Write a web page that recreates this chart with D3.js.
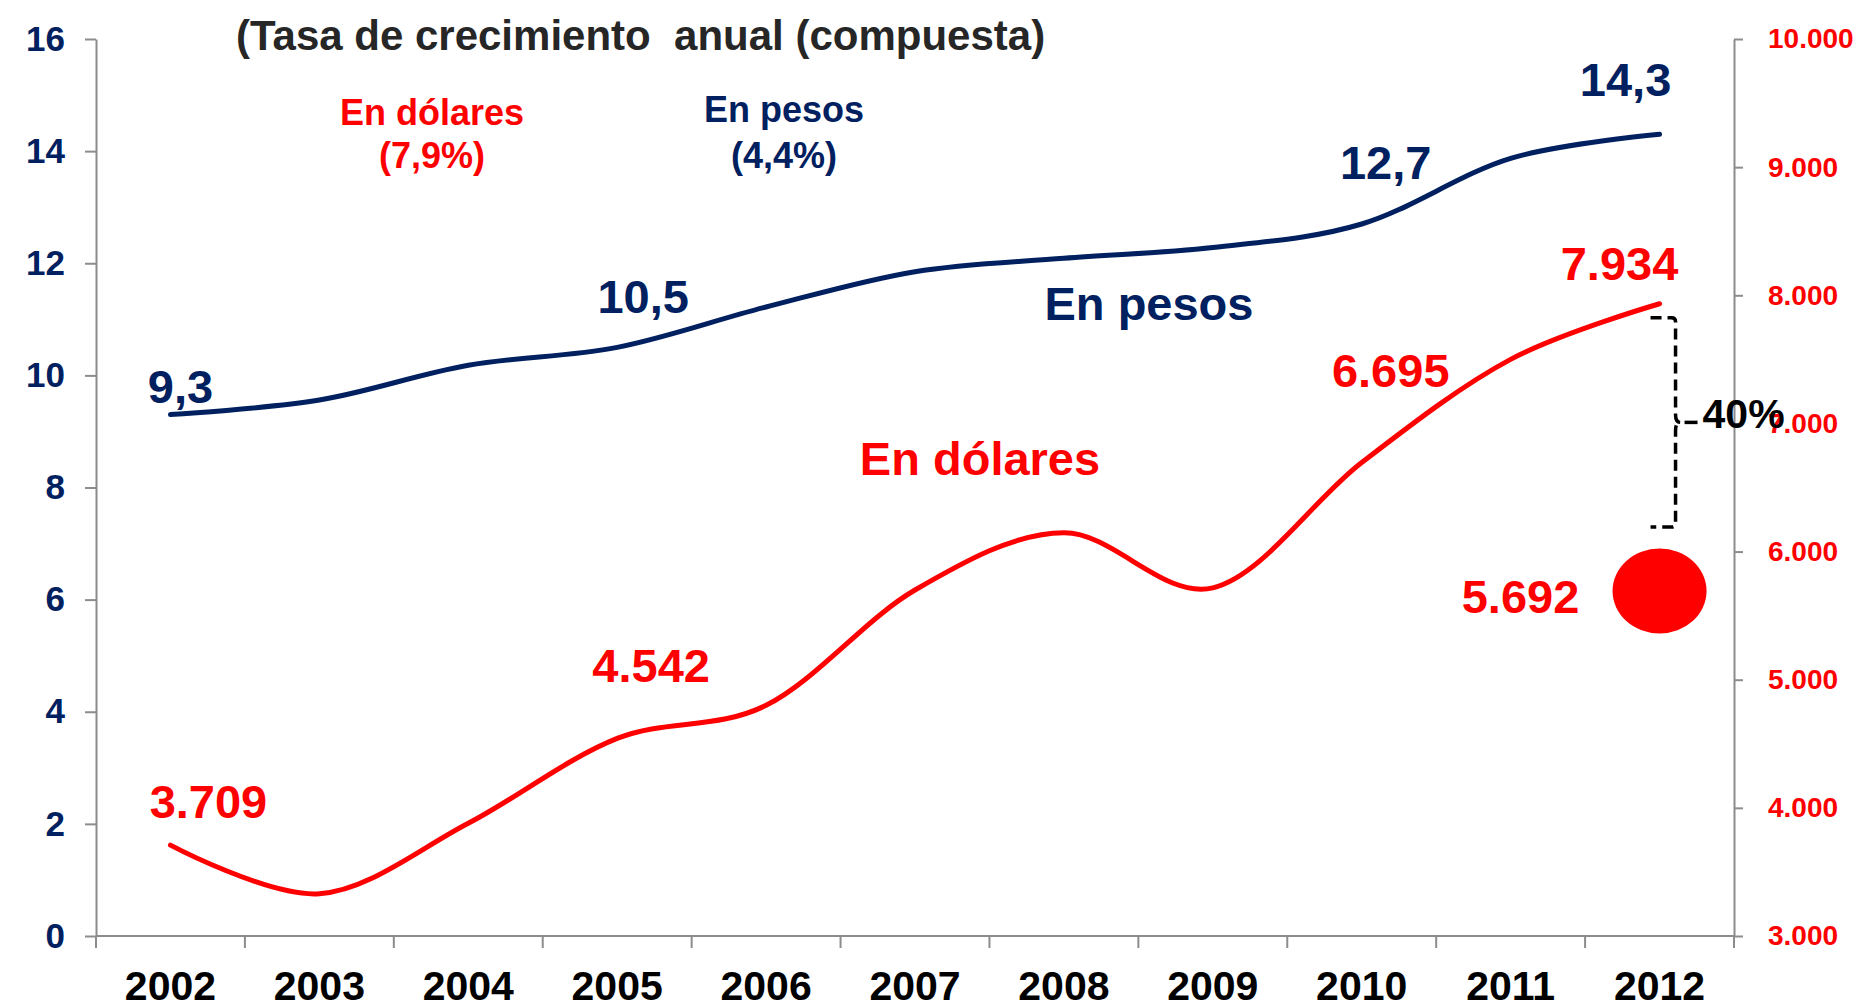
<!DOCTYPE html>
<html lang="es">
<head>
    <meta charset="UTF-8">
    <title>Tasa de crecimiento anual</title>
    <script src="https://cdn.jsdelivr.net/npm/d3@7"></script>
    <style>
        body {
            margin: 0;
            background: #fff;
            overflow: hidden;
        }
        svg text {
            font-family: Arial, "Liberation Sans", sans-serif;
            font-weight: bold;
        }
    </style>
</head>
<body>
    <svg id="chart"></svg>
    <script>
        // Data
        const years = ['2002', '2003', '2004', '2005', '2006', '2007', '2008', '2009', '2010', '2011', '2012'];
        const enPesos = [9.3, 9.56, 10.18, 10.5, 11.22, 11.85, 12.09, 12.28, 12.7, 13.87, 14.3];
        const enDolares = [3709, 3330, 3880, 4542, 4800, 5700, 6146, 5717, 6695, 7500, 7934];
        const labeledIdx = [0, 3, 8, 10];
        const puntoDolares = 5692;   // single point for 2012
        const leftTicks = [0, 2, 4, 6, 8, 10, 12, 14, 16];
        const rightTicks = [3000, 4000, 5000, 6000, 7000, 8000, 9000, 10000];
        const title = '(Tasa de crecimiento  anual (compuesta)';
        const tasaDolares = 0.079;
        const tasaPesos = 0.044;
        const brecha = '40%';

        const navy = '#002060';
        const red = '#ff0000';
        const grey = '#8c8c8c';

        const width = 1872, height = 1008;
        const margin = {top: 39, right: 138, bottom: 72, left: 96};

        const es = d3.formatLocale({decimal: ',', thousands: '.', grouping: [3], currency: ['$', '']});
        const fmtDol = es.format(',d');
        const fmtPes = es.format('.1f');
        const fmtPct = es.format('.1%');

        const svg = d3.select('#chart')
            .attr('width', width)
            .attr('height', height);

        const x = d3.scaleBand()
            .domain(years)
            .range([margin.left, width - margin.right]);
        const cx = d => x(d) + x.bandwidth() / 2;

        const yL = d3.scaleLinear().domain([0, 16]).range([height - margin.bottom, margin.top]);
        const yR = d3.scaleLinear().domain([3000, 10000]).range([height - margin.bottom, margin.top]);

        // Left axis
        const gL = svg.append('g')
            .attr('transform', `translate(${margin.left},0)`)
            .call(d3.axisLeft(yL).tickValues(leftTicks).tickSize(11).tickPadding(20).tickSizeOuter(0));
        gL.select('.domain').attr('stroke', grey).attr('stroke-width', 2);
        gL.selectAll('.tick line').attr('stroke', grey).attr('stroke-width', 2);
        gL.selectAll('.tick text')
            .attr('fill', navy)
            .style('font-size', '35px');

        // Right axis
        const gR = svg.append('g')
            .attr('transform', `translate(${width - margin.right},0)`)
            .call(d3.axisRight(yR).tickValues(rightTicks).tickFormat(fmtDol).tickSize(9).tickPadding(25).tickSizeOuter(0));
        gR.select('.domain').attr('stroke', grey).attr('stroke-width', 2);
        gR.selectAll('.tick line').attr('stroke', grey).attr('stroke-width', 2);
        gR.selectAll('.tick text')
            .attr('fill', red)
            .style('font-size', '28px');

        // Bottom axis: line, boundary ticks, year labels
        const baseY = yL(0);
        const gB = svg.append('g');
        gB.append('line')
            .attr('x1', margin.left).attr('x2', width - margin.right)
            .attr('y1', baseY).attr('y2', baseY)
            .attr('stroke', grey).attr('stroke-width', 2);
        const bounds = years.map(d => x(d)).concat([x.range()[1]]);
        gB.selectAll('.xtick')
            .data(bounds)
            .enter()
            .append('line')
            .attr('class', 'xtick')
            .attr('x1', d => d).attr('x2', d => d)
            .attr('y1', baseY).attr('y2', baseY + 12)
            .attr('stroke', grey).attr('stroke-width', 2);
        gB.selectAll('.year')
            .data(years)
            .enter()
            .append('text')
            .attr('class', 'year')
            .attr('x', d => cx(d))
            .attr('y', baseY + 64)
            .attr('text-anchor', 'middle')
            .attr('fill', '#000')
            .style('font-size', '41px')
            .text(d => d);

        // Lines
        const linePes = d3.line()
            .x((d, i) => cx(years[i]))
            .y(d => yL(d))
            .curve(d3.curveCardinal.tension(0));
        const lineDol = d3.line()
            .x((d, i) => cx(years[i]))
            .y(d => yR(d))
            .curve(d3.curveCardinal.tension(0));

        svg.append('path')
            .datum(enPesos)
            .attr('d', linePes)
            .attr('fill', 'none')
            .attr('stroke', navy)
            .attr('stroke-width', 5)
            .attr('stroke-linecap', 'round');

        svg.append('path')
            .datum(enDolares)
            .attr('d', lineDol)
            .attr('fill', 'none')
            .attr('stroke', red)
            .attr('stroke-width', 5)
            .attr('stroke-linecap', 'round');

        // 2012 point
        const last = years[years.length - 1];
        svg.append('ellipse')
            .attr('cx', cx(last))
            .attr('cy', yR(puntoDolares))
            .attr('rx', 47)
            .attr('ry', 42.5)
            .attr('fill', red);

        // Value labels (offsets from the point)
        const pesOffsets = [[10, -12], [26, -34], [24, -45], [-34, -38]];
        const dolOffsets = [[38, -27], [34, -56], [29, -76], [-40, -24]];

        svg.selectAll('.lblPes')
            .data(labeledIdx)
            .enter()
            .append('text')
            .attr('class', 'lblPes')
            .attr('x', (d, i) => cx(years[d]) + pesOffsets[i][0])
            .attr('y', (d, i) => yL(enPesos[d]) + pesOffsets[i][1])
            .attr('text-anchor', 'middle')
            .attr('fill', navy)
            .style('font-size', '47px')
            .text(d => fmtPes(enPesos[d]));

        svg.selectAll('.lblDol')
            .data(labeledIdx)
            .enter()
            .append('text')
            .attr('class', 'lblDol')
            .attr('x', (d, i) => cx(years[d]) + dolOffsets[i][0])
            .attr('y', (d, i) => yR(enDolares[d]) + dolOffsets[i][1])
            .attr('text-anchor', 'middle')
            .attr('fill', red)
            .style('font-size', '47px')
            .text(d => fmtDol(enDolares[d]));

        svg.append('text')
            .attr('x', cx(last) - 139)
            .attr('y', yR(puntoDolares) + 22)
            .attr('text-anchor', 'middle')
            .attr('fill', red)
            .style('font-size', '47px')
            .text(fmtDol(puntoDolares));

        // Series names
        svg.append('text')
            .attr('x', 1149).attr('y', 320)
            .attr('text-anchor', 'middle')
            .attr('fill', navy)
            .style('font-size', '47px')
            .text('En pesos');
        svg.append('text')
            .attr('x', 980).attr('y', 475)
            .attr('text-anchor', 'middle')
            .attr('fill', red)
            .style('font-size', '47px')
            .text('En dólares');

        // Title and growth rates
        svg.append('text')
            .attr('x', 236).attr('y', 50)
            .attr('fill', '#262626')
            .style('font-size', '42px')
            .style('white-space', 'pre')
            .text(title);

        svg.append('text')
            .attr('x', 432).attr('y', 125)
            .attr('text-anchor', 'middle')
            .attr('fill', red)
            .style('font-size', '36px')
            .text('En dólares');
        svg.append('text')
            .attr('x', 432).attr('y', 168)
            .attr('text-anchor', 'middle')
            .attr('fill', red)
            .style('font-size', '36px')
            .text('(' + fmtPct(tasaDolares) + ')');

        svg.append('text')
            .attr('x', 784).attr('y', 122)
            .attr('text-anchor', 'middle')
            .attr('fill', navy)
            .style('font-size', '36px')
            .text('En pesos');
        svg.append('text')
            .attr('x', 784).attr('y', 168)
            .attr('text-anchor', 'middle')
            .attr('fill', navy)
            .style('font-size', '36px')
            .text('(' + fmtPct(tasaPesos) + ')');

        // Dashed bracket between 2012 value and the point
        const bx0 = cx(last) - 9, bx1 = cx(last) + 16;
        const bTop = yR(enDolares[enDolares.length - 1]) + 14;
        const bBot = yR(puntoDolares) - 64;
        const bMid = (bTop + bBot) / 2;
        const path = d3.path();
        path.moveTo(bx0, bTop);
        path.lineTo(bx1 - 4, bTop);
        path.quadraticCurveTo(bx1, bTop, bx1, bTop + 4);
        path.lineTo(bx1, bMid - 8);
        path.quadraticCurveTo(bx1, bMid, bx1 + 5, bMid);
        path.quadraticCurveTo(bx1, bMid, bx1, bMid + 8);
        path.lineTo(bx1, bBot - 4);
        path.quadraticCurveTo(bx1, bBot, bx1 - 4, bBot);
        path.lineTo(bx0, bBot);
        svg.append('path')
            .attr('d', path.toString())
            .attr('fill', 'none')
            .attr('stroke', '#000')
            .attr('stroke-width', 3.5)
            .attr('stroke-dasharray', '11,6');
        svg.append('line')
            .attr('x1', bx1 + 9).attr('x2', bx1 + 22)
            .attr('y1', bMid).attr('y2', bMid)
            .attr('stroke', '#000')
            .attr('stroke-width', 3.5);
        svg.append('text')
            .attr('x', bx1 + 27)
            .attr('y', bMid + 6)
            .attr('fill', '#000')
            .style('font-size', '41px')
            .text(brecha);
    </script>
</body>
</html>
